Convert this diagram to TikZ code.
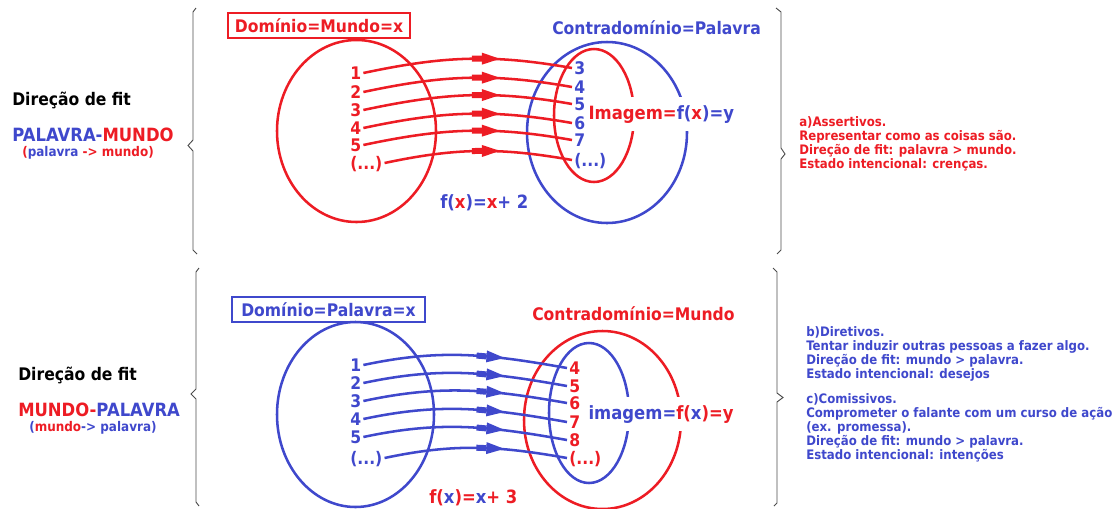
\documentclass[tikz,border=0pt]{standalone}
\usepackage{fontspec}
\setmainfont{DejaVu Sans}[FakeStretch=0.9]
\usetikzlibrary{decorations.markings}
\definecolor{vermelho}{RGB}{237,28,36}
\definecolor{azul}{RGB}{63,72,204}
\newcommand{\fdiag}{\fontsize{13}{15}\selectfont\bfseries}
\newcommand{\fgrande}{\fontsize{13.7}{15}\selectfont\bfseries}
\newcommand{\fsub}{\fontsize{10}{12}\selectfont\bfseries}
\newcommand{\ftexto}{\fontsize{9.8}{10.6}\selectfont\bfseries}

\begin{document}
\begin{tikzpicture}[x=0.75pt,y=0.75pt,
    rot/.style={font=\fdiag, inner sep=0pt, anchor=base west},
    caixa/.style={draw=#1, text=#1, line width=2pt, font=\fdiag, inner sep=0pt, minimum height=18.75pt},
    num/.style={font=\fdiag, inner sep=1.5pt, text height=9.5pt, text depth=0pt, anchor=west},
    img/.style={rot, font=\fgrande, fill=white, inner xsep=1pt, inner ysep=6pt},
    conj/.style={line width=1.9pt},
    chave/.style={line width=0.7pt, black!70},
    seta/.style 2 args={line width=1.9pt, draw=#1, postaction={decorate},
        decoration={markings, mark=at position #2 with {\fill[#1] (-10,-3) rectangle (0,3); \fill[#1] (0,-6) -- (18,0) -- (0,6) -- cycle;}}}]
    \useasboundingbox (0,0) rectangle (1117,-508);

    % Chaves
    \draw[chave] (196,-8) -- (193,-12) -- (193,-140) -- (188,-145.5) -- (193,-151) -- (193,-250) -- (197,-254);
    \draw[chave] (776,-8) -- (781,-12) -- (781,-148) -- (785,-154) -- (781,-159) -- (781,-250) -- (777,-254);
    \draw[chave] (199,-268) -- (196,-272) -- (196,-389) -- (191,-394) -- (196,-399) -- (196,-502) -- (199,-506);
    \draw[chave] (773,-268) -- (777,-272) -- (777,-393) -- (783,-397.5) -- (777,-402) -- (777,-503) -- (774,-506);

    % Direção de fit (lado esquerdo)
    \node[rot] (dir1) at (12,-105.3) {Direção de fit};
    \node[rot, font=\fgrande] (pm1) at (12,-141.3) {\textcolor{azul}{PALAVRA-}\textcolor{vermelho}{MUNDO}};
    \node[rot, font=\fsub] (sub1) at (22,-156.9) {\textcolor{vermelho}{(}\textcolor{azul}{palavra} \textcolor{vermelho}{-> mundo)}};
    \node[rot] (dir2) at (18,-380.3) {Direção de fit};
    \node[rot, font=\fgrande] (mp2) at (18,-416.3) {\textcolor{vermelho}{MUNDO-}\textcolor{azul}{PALAVRA}};
    \node[rot, font=\fsub] (sub2) at (29,-431.9) {\textcolor{azul}{(}\textcolor{vermelho}{mundo}\textcolor{azul}{-> palavra)}};

    % Função f(x)=x+2
    \node[caixa=vermelho, minimum width=136.5pt] (dom1) at (319,-25.5) {Domínio=Mundo=x};
    \node[rot, azul] (contra1) at (552,-34.3) {Contradomínio=Palavra};
    \draw[conj, vermelho] (356.5,-131) ellipse [x radius=79.5, y radius=91];
    \draw[conj, azul] (607,-132.5) ellipse [x radius=80, y radius=90.5];
    \draw[conj, vermelho] (594,-115.5) ellipse [x radius=40, y radius=66.5];
    \node[img] (imagem1) at (587,-119.3) {\color{vermelho}Imagem=\color{azul}f(\textcolor{vermelho}{x})=y};
    \foreach \t/\y [count=\i] in {1/73,2/92,3/110,4/128,5/145,{(...)}/163}
        \node[num, vermelho] (a\i) at (348,-\y) {\t};
    \foreach \t/\y [count=\i] in {3/68,4/87,5/104,6/123,7/140,{(...)}/160}
        \node[num, azul] (b\i) at (572,-\y) {\t};
    \foreach \i in {1,...,6}
        \draw[seta={vermelho}{-68pt}] (a\i.east) to[out=12,in=170] (b\i.west);
    \node[rot, font=\fgrande, azul] (fx1) at (440,-208.3) {f(\textcolor{vermelho}{x})=\textcolor{vermelho}{x}+ 2};

    % Função f(x)=x+3
    \node[caixa=azul, minimum width=144.75pt] (dom2) at (328.5,-309.5) {Domínio=Palavra=x};
    \node[rot, vermelho] (contra2) at (532,-320.3) {Contradomínio=Mundo};
    \draw[conj, azul] (355.5,-414.5) ellipse [x radius=78.5, y radius=92.5];
    \draw[conj, vermelho] (602.5,-420) ellipse [x radius=78.5, y radius=89];
    \draw[conj, azul] (589,-413) ellipse [x radius=40, y radius=70];
    \node[img] (imagem2) at (587,-419.3) {\color{azul}imagem=\color{vermelho}f(\textcolor{azul}{x})=y};
    \foreach \t/\y [count=\i] in {1/365,2/383,3/401,4/419,5/437,{(...)}/458}
        \node[num, azul] (c\i) at (348,-\y) {\t};
    \foreach \t/\y [count=\i] in {4/368,5/386,6/403,7/422,8/440,{(...)}/458}
        \node[num, vermelho] (d\i) at (567,-\y) {\t};
    \foreach \i in {1,...,6}
        \draw[seta={azul}{-61pt}] (c\i.east) to[out=12,in=170] (d\i.west);
    \node[rot, font=\fgrande, vermelho] (fx2) at (429,-503.3) {f(\textcolor{azul}{x})=\textcolor{azul}{x}+ 3};

    % Atos de fala
    \node[anchor=north west, inner sep=0pt, align=left, font=\ftexto, vermelho] (textoA) at (799,-116)
        {a)Assertivos.\\Representar como as coisas são.\\Direção de fit: palavra > mundo.\\Estado intencional: crenças.};
    \node[anchor=north west, inner sep=0pt, align=left, font=\ftexto, azul] (textoBC) at (806,-326)
        {b)Diretivos.\\Tentar induzir outras pessoas a fazer algo.\\Direção de fit: mundo > palavra.\\Estado intencional: desejos\\[8pt]c)Comissivos.\\Comprometer o falante com um curso de ação\\(ex. promessa).\\Direção de fit: mundo > palavra.\\Estado intencional: intenções};
\end{tikzpicture}
\end{document}
